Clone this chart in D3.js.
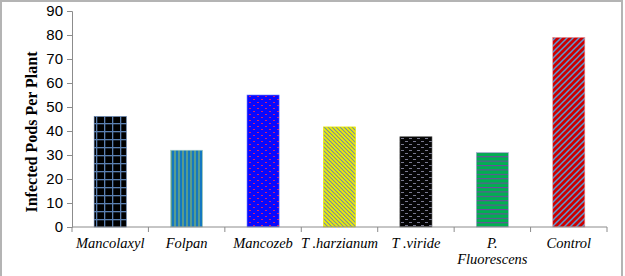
<!DOCTYPE html>
<html>
<head>
<meta charset="utf-8">
<script src="https://cdn.jsdelivr.net/npm/d3@7"></script>
<style>
  body { margin: 0; background: #fff; }
  svg { display: block; }
</style>
</head>
<body>
<div id="chart"></div>
<script>
const categories = ["Mancolaxyl", "Folpan", "Mancozeb", "T .harzianum", "T .viride", "P. Fluorescens", "Control"];
const values = [46, 32, 55, 41.7, 37.6, 31, 79];
const yTicks = [0, 10, 20, 30, 40, 50, 60, 70, 80, 90];
const yTitle = "Infected Pods Per Plant";

const W = 625, H = 276;
const margin = { top: 11, right: 18, bottom: 49, left: 72 },
      width = 607 - margin.left,
      height = 227 - margin.top;

const svg = d3.select("#chart").append("svg")
    .attr("width", W)
    .attr("height", H);

// outer frame
svg.append("rect")
    .attr("x", 1).attr("y", 1)
    .attr("width", 621).attr("height", 290)
    .attr("fill", "none")
    .attr("stroke", "#b4b4b4")
    .attr("stroke-width", 2);

// fill patterns, one per bar
const defs = svg.append("defs");

function pat(id, w, h, bg, draw) {
    const p = defs.append("pattern")
        .attr("id", id)
        .attr("patternUnits", "userSpaceOnUse")
        .attr("width", w).attr("height", h);
    p.append("rect").attr("width", w).attr("height", h).attr("fill", bg);
    draw(p);
}

pat("p0", 8, 8, "#000", p => {
    p.append("rect").attr("x", 0).attr("y", 0).attr("width", 8).attr("height", 1.3).attr("fill", "#5a7fb0");
    p.append("rect").attr("x", 0).attr("y", 0).attr("width", 1.3).attr("height", 8).attr("fill", "#5a7fb0");
});
pat("p1", 4, 4, "#1478c0", p => {
    p.append("rect").attr("x", 2).attr("y", 0).attr("width", 2).attr("height", 4).attr("fill", "#5b9c8c");
});
pat("p2", 8, 6, "#0808ff", p => {
    p.append("rect").attr("x", 1).attr("y", 1).attr("width", 2).attr("height", 1).attr("fill", "#d02070");
    p.append("rect").attr("x", 5).attr("y", 4).attr("width", 2).attr("height", 1).attr("fill", "#d02070");
});
pat("p3", 4, 4, "#f0f000", p => {
    p.append("path").attr("d", "M0,0 L4,4").attr("stroke", "#7088a8").attr("stroke-width", 1.1);
    p.append("path").attr("d", "M-1,3 L1,5 M3,-1 L5,1").attr("stroke", "#7088a8").attr("stroke-width", 1.1);
});
pat("p4", 8, 6, "#050505", p => {
    p.append("rect").attr("x", 1).attr("y", 1).attr("width", 3).attr("height", 1).attr("fill", "#7a7a90");
    p.append("rect").attr("x", 5).attr("y", 4).attr("width", 3).attr("height", 1).attr("fill", "#7a7a90");
});
pat("p5", 4, 4.4, "#00b050", p => {
    p.append("rect").attr("x", 0).attr("y", 0).attr("width", 4).attr("height", 1.1).attr("fill", "#7048a0");
});
pat("p6", 6, 6, "#cc0000", p => {
    p.append("path").attr("d", "M0,6 L6,0").attr("stroke", "#5b9bd5").attr("stroke-width", 1.5);
    p.append("path").attr("d", "M-1,1 L1,-1 M5,7 L7,5").attr("stroke", "#5b9bd5").attr("stroke-width", 1.5);
});
const edgeColors = ["#4a6a9a", "#a8d0c8", "#6a7aff", "#e8e800", "#555", "#a0b0d0", "#f09090"];

const g = svg.append("g")
    .attr("transform", `translate(${margin.left},${margin.top})`);

const x = d3.scaleBand()
    .domain(categories)
    .range([0, width])
    .paddingInner(0.58)
    .paddingOuter(0.29);

const y = d3.scaleLinear()
    .domain([0, 90])
    .range([height, 0]);

// bars
g.selectAll(".bar")
    .data(values)
    .enter()
    .append("rect")
    .attr("class", "bar")
    .attr("x", (d, i) => x(categories[i]))
    .attr("y", d => y(d))
    .attr("width", x.bandwidth())
    .attr("height", d => height - y(d))
    .attr("fill", (d, i) => `url(#p${i})`)
    .attr("stroke", (d, i) => edgeColors[i])
    .attr("stroke-width", 0.6);

// y axis
const yAxis = g.append("g")
    .call(d3.axisLeft(y).tickValues(yTicks).tickSize(5).tickPadding(4));
yAxis.select(".domain").attr("stroke", "#8c8c8c");
yAxis.selectAll(".tick line").attr("stroke", "#8c8c8c");
yAxis.selectAll(".tick text")
    .attr("font-family", "'Liberation Sans', Arial, sans-serif")
    .attr("font-size", "15px")
    .attr("fill", "#000");

// x axis: ticks at category boundaries
const xAxis = g.append("g")
    .attr("transform", `translate(0,${height})`);
xAxis.append("line")
    .attr("x1", 0).attr("x2", width)
    .attr("stroke", "#8c8c8c");
xAxis.selectAll(".xt")
    .data(d3.range(categories.length + 1))
    .enter()
    .append("line")
    .attr("x1", i => i * width / categories.length)
    .attr("x2", i => i * width / categories.length)
    .attr("y1", 0).attr("y2", 5)
    .attr("stroke", "#8c8c8c");

xAxis.selectAll(".xl")
    .data(categories)
    .enter()
    .append("text")
    .attr("x", d => x(d) + x.bandwidth() / 2)
    .attr("y", 21)
    .attr("text-anchor", "middle")
    .attr("font-family", "'Liberation Serif', 'Times New Roman', serif")
    .attr("font-style", "italic")
    .attr("font-size", "14.5px")
    .attr("fill", "#000")
    .each(function(d) {
        const parts = d.startsWith("P. ") ? ["P.", "Fluorescens"] : [d];
        const t = d3.select(this);
        parts.forEach((s, k) => {
            t.append("tspan")
                .attr("x", x(d) + x.bandwidth() / 2)
                .attr("dy", k === 0 ? 0 : 16)
                .text(s);
        });
    });

// y title
svg.append("text")
    .attr("transform", `translate(37,132) rotate(-90)`)
    .attr("text-anchor", "middle")
    .attr("font-family", "'Liberation Serif', 'Times New Roman', serif")
    .attr("font-weight", "bold")
    .attr("font-size", "16px")
    .attr("fill", "#000")
    .text(yTitle);
</script>
</body>
</html>
